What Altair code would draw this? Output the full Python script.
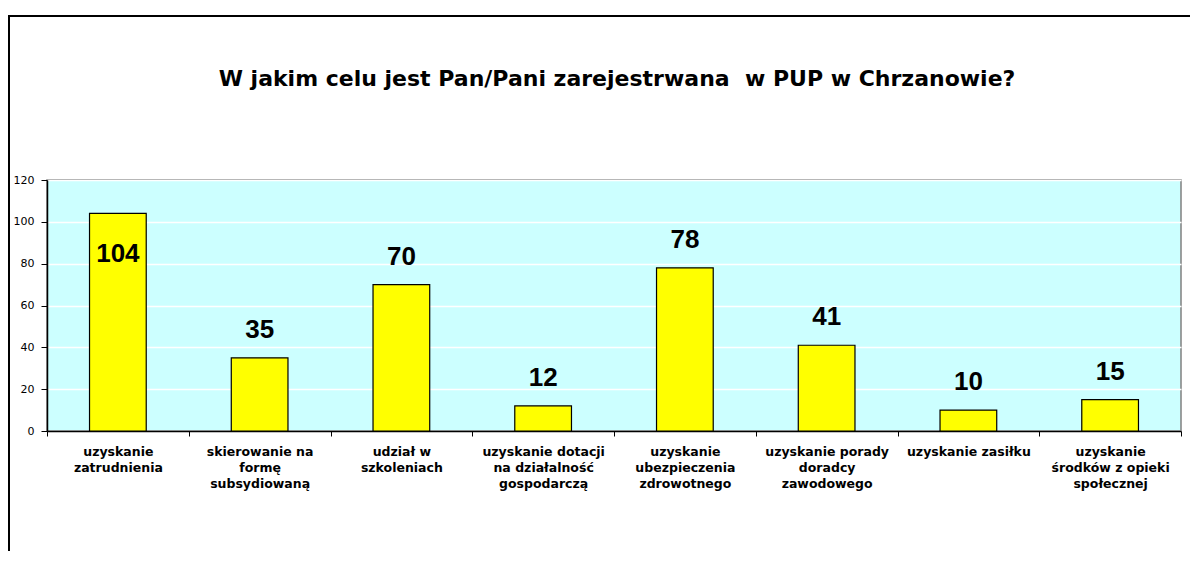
import altair as alt
import pandas as pd

categories = [
    "uzyskanie\nzatrudnienia",
    "skierowanie na\nformę\nsubsydiowaną",
    "udział w\nszkoleniach",
    "uzyskanie dotacji\nna działalność\ngospodarczą",
    "uzyskanie\nubezpieczenia\nzdrowotnego",
    "uzyskanie porady\ndoradcy\nzawodowego",
    "uzyskanie zasiłku",
    "uzyskanie\nśrodków z opieki\nspołecznej",
]
values = [104, 35, 70, 12, 78, 41, 10, 15]
y_ticks = [0, 20, 40, 60, 80, 100, 120]
title_text = "W jakim celu jest Pan/Pani zarejestrwana \u00a0w PUP w Chrzanowie?"

df = pd.DataFrame({"cat": categories, "val": values})

W, H = 1134, 251

x_enc = alt.X(
    "cat:N",
    sort=categories,
    title=None,
    scale=alt.Scale(paddingInner=0, paddingOuter=0),
    axis=alt.Axis(
        labelAngle=0,
        labelExpr="split(datum.label, '\\n')",
        labelFont="DejaVu Sans",
        labelFontWeight="bold",
        labelFontSize=12.5,
        labelLineHeight=16,
        labelColor="black",
        labelPadding=9,
        labelBaseline="top",
        tickBand="extent",
        tickColor="black",
        tickSize=5,
        domainColor="black",
        domainWidth=1.5,
        grid=False,
        labelLimit=200,
    ),
)

y_enc = alt.Y(
    "val:Q",
    title=None,
    scale=alt.Scale(domain=[0, 120], nice=False),
    axis=alt.Axis(
        values=y_ticks,
        labelFont="DejaVu Sans",
        labelFontSize=11,
        labelColor="black",
        labelPadding=7,
        tickColor="black",
        tickSize=6,
        domainColor="black",
        domainWidth=1.5,
        gridColor="white",
        gridWidth=1.5,
    ),
)

base = alt.Chart(df)

bars = base.mark_bar(
    width=alt.RelativeBandSize(0.4),
    color="#FFFF00",
    stroke="black",
    strokeWidth=1.2,
).encode(x=x_enc, y=y_enc)

labels_out = base.transform_filter("datum.val <= 100").mark_text(
    font="Liberation Sans",
    fontWeight="bold",
    fontSize=26,
    baseline="bottom",
    dy=-15,
    color="black",
).encode(x=alt.X("cat:N", sort=categories), y="val:Q", text="val:Q")

labels_in = base.transform_filter("datum.val > 100").mark_text(
    font="Liberation Sans",
    fontWeight="bold",
    fontSize=26,
    baseline="bottom",
    dy=54,
    color="black",
).encode(x=alt.X("cat:N", sort=categories), y="val:Q", text="val:Q")

frame = alt.Chart(pd.DataFrame({"k": [0]})).mark_rect(
    fill=None, stroke="black", strokeWidth=2, clip=False
).encode(
    x=alt.value(-38), x2=alt.value(W + 60),
    y=alt.value(-164), y2=alt.value(H + 200),
)

title = alt.Chart(pd.DataFrame({"t": [title_text]})).mark_text(
    font="DejaVu Sans",
    fontSize=22,
    fontWeight="bold",
    color="black",
    align="center",
    baseline="alphabetic",
).encode(x=alt.value(W / 2 + 3), y=alt.value(-94), text="t:N")

chart = (
    alt.layer(bars, labels_out, labels_in, frame, title)
    .properties(
        width=W,
        height=H,
        padding={"left": 39, "top": 172, "right": 9, "bottom": 120},
        autosize=alt.AutoSizeParams(type="none"),
    )
    .configure(background="white")
    .configure_view(fill="#CCFFFF", stroke="#808080", strokeWidth=1.5)
)

chart.save("out.html", embed_options={"renderer": "svg", "actions": False})
